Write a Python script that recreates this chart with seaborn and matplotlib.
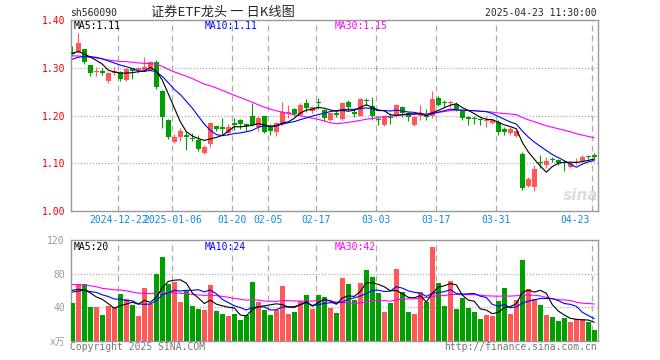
import numpy as np
import pandas as pd
import matplotlib
matplotlib.use("Agg")
import matplotlib.pyplot as plt
import matplotlib.transforms as mtransforms
import seaborn as sns

# daily K-line, 2024-12-11 .. 2025-04-23 (88 sessions)
open_px = [1.334, 1.333, 1.339, 1.305, 1.292, 1.293, 1.272, 1.290, 1.292, 1.274,
           1.299, 1.295, 1.295, 1.296, 1.313, 1.251, 1.191, 1.144, 1.156, 1.159,
           1.152, 1.149, 1.121, 1.140, 1.177, 1.175, 1.163, 1.184, 1.191, 1.181,
           1.198, 1.175, 1.200, 1.177, 1.166, 1.184, 1.204, 1.214, 1.201, 1.226,
           1.209, 1.229, 1.212, 1.191, 1.205, 1.192, 1.229, 1.207, 1.200, 1.232,
           1.220, 1.193, 1.181, 1.197, 1.199, 1.217, 1.205, 1.180, 1.200, 1.200,
           1.198, 1.237, 1.228, 1.226, 1.225, 1.210, 1.196, 1.195, 1.192, 1.189,
           1.184, 1.187, 1.172, 1.163, 1.158, 1.120, 1.053, 1.051, 1.103, 1.096,
           1.109, 1.107, 1.102, 1.093, 1.100, 1.105, 1.116, 1.118]
high_px = [1.345, 1.372, 1.340, 1.305, 1.302, 1.299, 1.292, 1.302, 1.294, 1.300,
           1.300, 1.301, 1.323, 1.315, 1.316, 1.253, 1.192, 1.161, 1.173, 1.167,
           1.164, 1.159, 1.138, 1.186, 1.179, 1.195, 1.182, 1.194, 1.192, 1.184,
           1.226, 1.200, 1.200, 1.182, 1.187, 1.229, 1.222, 1.216, 1.227, 1.235,
           1.220, 1.237, 1.214, 1.207, 1.210, 1.229, 1.232, 1.213, 1.237, 1.237,
           1.238, 1.200, 1.199, 1.205, 1.225, 1.220, 1.207, 1.200, 1.222, 1.213,
           1.252, 1.240, 1.232, 1.233, 1.228, 1.213, 1.198, 1.198, 1.195, 1.198,
           1.193, 1.190, 1.176, 1.175, 1.170, 1.124, 1.072, 1.096, 1.118, 1.114,
           1.114, 1.109, 1.107, 1.104, 1.110, 1.117, 1.118, 1.121]
low_px = [1.325, 1.330, 1.307, 1.283, 1.283, 1.285, 1.269, 1.285, 1.273, 1.272,
          1.277, 1.290, 1.293, 1.294, 1.255, 1.174, 1.150, 1.142, 1.147, 1.128,
          1.147, 1.126, 1.119, 1.135, 1.168, 1.162, 1.159, 1.170, 1.171, 1.168,
          1.178, 1.168, 1.164, 1.159, 1.157, 1.180, 1.195, 1.200, 1.198, 1.208,
          1.206, 1.214, 1.188, 1.188, 1.196, 1.190, 1.210, 1.196, 1.198, 1.222,
          1.191, 1.180, 1.179, 1.182, 1.196, 1.196, 1.188, 1.178, 1.191, 1.191,
          1.195, 1.219, 1.218, 1.218, 1.209, 1.191, 1.180, 1.183, 1.180, 1.176,
          1.182, 1.160, 1.160, 1.160, 1.155, 1.045, 1.051, 1.042, 1.091, 1.091,
          1.102, 1.097, 1.083, 1.091, 1.096, 1.103, 1.109, 1.109]
close_px = [1.329, 1.352, 1.312, 1.290, 1.294, 1.290, 1.288, 1.294, 1.276, 1.297,
            1.293, 1.299, 1.302, 1.313, 1.260, 1.196, 1.156, 1.155, 1.168, 1.156,
            1.150, 1.130, 1.135, 1.184, 1.171, 1.172, 1.175, 1.181, 1.182, 1.179,
            1.180, 1.194, 1.166, 1.168, 1.185, 1.208, 1.207, 1.203, 1.223, 1.215,
            1.218, 1.226, 1.194, 1.205, 1.202, 1.227, 1.217, 1.204, 1.235, 1.230,
            1.198, 1.190, 1.196, 1.194, 1.223, 1.206, 1.197, 1.197, 1.202, 1.197,
            1.235, 1.222, 1.226, 1.228, 1.212, 1.194, 1.193, 1.192, 1.190, 1.191,
            1.191, 1.165, 1.165, 1.172, 1.168, 1.048, 1.066, 1.088, 1.100, 1.105,
            1.106, 1.100, 1.100, 1.100, 1.103, 1.114, 1.113, 1.114]
# volume, 万手
volume = [45.3, 67.2, 67.2, 40.5, 40.5, 31.0, 41.7, 40.0, 55.6, 49.7,
          42.5, 29.8, 62.8, 43.7, 79.5, 99.7, 67.6, 70.0, 46.1, 59.6,
          41.3, 37.8, 36.6, 66.4, 35.4, 31.8, 29.4, 31.8, 24.6, 30.6,
          70.0, 46.1, 36.6, 30.6, 36.6, 65.2, 31.8, 34.2, 47.3, 54.4,
          37.8, 54.4, 52.1, 39.3, 33.4, 75.1, 67.6, 48.5, 69.1, 84.2,
          76.3, 57.2, 34.6, 45.3, 85.8, 58.0, 34.6, 31.8, 58.4, 46.5,
          112.0, 69.1, 41.7, 71.5, 38.2, 51.3, 39.3, 34.6, 26.2, 31.0,
          29.8, 47.7, 62.4, 32.2, 48.5, 96.6, 62.0, 50.1, 42.9, 31.0,
          28.6, 23.8, 27.0, 22.7, 25.4, 25.4, 22.7, 13.1]

# sessions before the window, only used to warm up the moving averages
prior_close = [1.36, 1.35, 1.34, 1.33, 1.35, 1.36, 1.34, 1.32, 1.31, 1.33,
               1.34, 1.33, 1.32, 1.31, 1.33, 1.34, 1.32,
               1.30, 1.29, 1.30, 1.31, 1.30, 1.29, 1.31, 1.32, 1.33, 1.34, 1.32, 1.33]
prior_volume = [80, 75, 68, 72, 90, 65, 70, 62, 78, 85, 70, 66, 60, 74, 68, 72, 64, 70, 76, 65,
                58, 52, 60, 50, 60, 62, 70, 58, 65]

tick_pos = [8, 17, 27, 33, 41, 51, 61, 71, 87]
tick_labels = ["2024-12-22", "2025-01-06", "01-20", "02-05", "02-17",
               "03-03", "03-17", "03-31", "04-23"]
price_ticks = [1.00, 1.10, 1.20, 1.30, 1.40]
vol_ticks = [0, 40, 80, 120]
vol_tick_labels = ["x万", "40", "80", "120"]

n = len(close_px)
df = pd.DataFrame({"i": np.arange(n), "open": open_px, "high": high_px,
                   "low": low_px, "close": close_px, "vol": volume})
all_close = pd.Series(prior_close + close_px)
all_vol = pd.Series(prior_volume + volume)
for w in (5, 10, 30):
    df[f"ma{w}"] = all_close.rolling(w).mean().iloc[-n:].values
    df[f"vma{w}"] = all_vol.rolling(w).mean().iloc[-n:].values

RED = "#ff5858"
GREEN = "#009f00"
GRID = "#aaaaaa"
FRAME = "#999999"
colors = np.where(df["close"] >= df["open"], RED, GREEN)

sns.set_style("white")
plt.rcParams["font.family"] = ["DejaVu Sans Mono", "Noto Sans CJK SC"]
plt.rcParams["lines.scale_dashes"] = False

W, H = 660, 360
fig = plt.figure(figsize=(6.6, 3.6), dpi=100)
ax1 = fig.add_axes([70.5 / W, 1 - 211 / H, 527 / W, 191 / H])
ax2 = fig.add_axes([70.5 / W, 1 - 340.7 / H, 527 / W, 100.7 / H])

grid_x = [p - 0.33 for p in tick_pos]

# price panel
for gx in grid_x[:-1] + [grid_x[-1]]:
    ax1.axvline(gx, color=GRID, lw=0.9, ls=(0, (4.3, 2.9)), zorder=0)
for gy in (1.10, 1.20, 1.30):
    ax1.axhline(gy, color=GRID, lw=0.9, ls=(0, (0.8, 1.4)), zorder=0)

ax1.vlines(df["i"], df["low"], df["high"], colors=colors, lw=0.8, zorder=2)
body_low = np.minimum(df["open"], df["close"])
body_h = np.maximum((df["close"] - df["open"]).abs(), 0.0022)
ax1.bar(df["i"], body_h, bottom=body_low, width=0.82, color=colors,
        linewidth=0, zorder=3)

sns.lineplot(data=df, x="i", y="ma30", color="#ff00ff", lw=0.8, ax=ax1, zorder=4)
sns.lineplot(data=df, x="i", y="ma10", color="#0000ff", lw=0.8, ax=ax1, zorder=4)
sns.lineplot(data=df, x="i", y="ma5", color="black", lw=0.8, ax=ax1, zorder=5)

ax1.set_xlim(-0.3, 87.53)
ax1.set_ylim(1.00, 1.40)
ax1.set_yticks(price_ticks, [f"{v:.2f}" for v in price_ticks])
ax1.set_xticks(grid_x, tick_labels)
ax1.tick_params(axis="y", length=0, pad=4, labelsize=7, labelcolor="#ee0000")
ax1.tick_params(axis="x", length=0, pad=3, labelsize=7, labelcolor="#1088e0")
ax1.xaxis.get_ticklabels()[-1].set_horizontalalignment("right")
last = ax1.xaxis.get_ticklabels()[-1]
last.set_transform(last.get_transform() +
                   mtransforms.ScaledTranslation(-0.03, 0, fig.dpi_scale_trans))
ax1.set_xlabel("")
ax1.set_ylabel("")

# volume panel
sns.barplot(data=df, x="i", y="vol", hue="i", palette=dict(zip(df["i"], colors)),
            legend=False, saturation=1, width=0.82, linewidth=0, ax=ax2, zorder=3)
for gx in grid_x:
    ax2.axvline(gx, color=GRID, lw=0.9, ls=(0, (4.3, 2.9)), zorder=0)
for gy in (40, 80):
    ax2.axhline(gy, color=GRID, lw=0.9, ls=(0, (0.8, 1.4)), zorder=0)
ax2.plot(df["i"], df["vma30"], color="#ff00ff", lw=0.8, zorder=4)
sns.lineplot(data=df, x="i", y="vma10", color="#0000ff", lw=0.8, ax=ax2, zorder=4)
sns.lineplot(data=df, x="i", y="vma5", color="black", lw=0.8, ax=ax2, zorder=5)
ax2.set_xlim(-0.3, 87.53)
ax2.set_ylim(0, 120)
ax2.set_xticks([])
ax2.set_yticks(vol_ticks, vol_tick_labels)
ax2.tick_params(axis="y", length=0, pad=4, labelsize=7, labelcolor="#999999")
ax2.set_xlabel("")
ax2.set_ylabel("")

for ax in (ax1, ax2):
    for s in ax.spines.values():
        s.set_color(FRAME)
        s.set_linewidth(1.0)
        s.set_visible(True)

def put(x, y, s, **kw):
    fig.text(x / W, 1 - y / H, s, va="center", fontsize=7, **kw)

put(70, 13, "sh560090")
put(597, 12.5, "2025-04-23 11:30:00", ha="right")
fig.text(223 / W, 1 - 12 / H, "证券ETF龙头 一 日K线图", ha="center", va="center",
         fontsize=9.5, family=["Noto Sans CJK SC", "DejaVu Sans"])

put(74, 26, "MA5:1.11", color="black")
put(205, 26, "MA10:1.11", color="#0000ff")
put(335, 26, "MA30:1.15", color="#ff00ff")
put(74, 247, "MA5:20", color="black")
put(205, 247, "MA10:24", color="#0000ff")
put(335, 247, "MA30:42", color="#ff00ff")

put(70, 346.5, "Copyright 2025 SINA.COM", color="#777777")
put(597, 346.5, "http://finance.sina.com.cn", ha="right", color="#777777")
fig.text(581 / W, 1 - 196 / H, "sina", ha="center", va="center", fontsize=11,
         color="#dddddd", style="italic", weight="bold", family="DejaVu Sans")

fig.savefig("out.png", dpi=100)
